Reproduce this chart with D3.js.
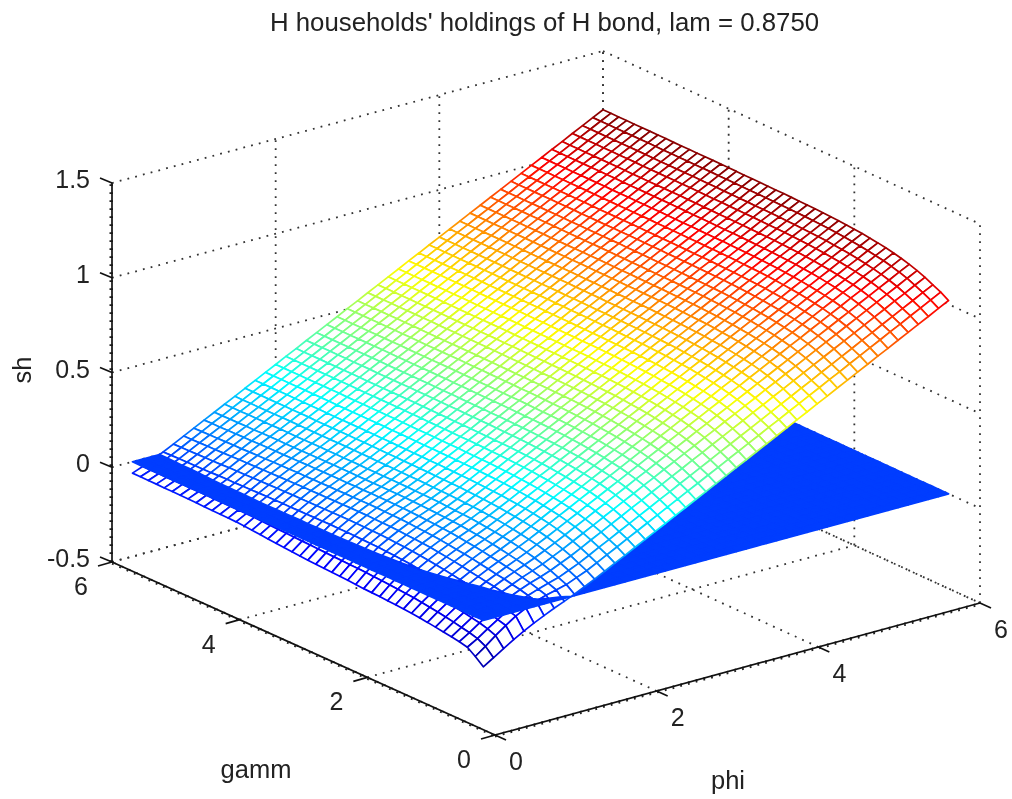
<!DOCTYPE html>
<html><head><meta charset="utf-8">
<style>html,body{margin:0;padding:0;background:#fff}svg{display:block;filter:blur(0.4px)}text{font-family:"Liberation Sans",Arial,sans-serif;fill:#222}</style>
<script src="https://d3js.org/d3.v7.min.js"></script></head><body><div id="c"></div>
<script>
const titleText = "H households' holdings of H bond, lam = 0.8750";
const phiTicks = [0,2,4,6];
const gammTicks = [0,2,4,6];
const zTicks = [-0.5,0,0.5,1,1.5];
const zTickLabels = ["-0.5","0","0.5","1","1.5"];
const planeValue = 0;
const phiValues = [0.25,0.375,0.5,0.625,0.75,0.875,1,1.125,1.25,1.375,1.5,1.625,1.75,1.875,2,2.125,2.25,2.375,2.5,2.625,2.75,2.875,3,3.125,3.25,3.375,3.5,3.625,3.75,3.875,4,4.125,4.25,4.375,4.5,4.625,4.75,4.875,5,5.125,5.25,5.375,5.5,5.625,5.75,5.875,6];
const gammValues = [0.5,0.625,0.75,0.875,1,1.125,1.25,1.375,1.5,1.625,1.75,1.875,2,2.125,2.25,2.375,2.5,2.625,2.75,2.875,3,3.125,3.25,3.375,3.5,3.625,3.75,3.875,4,4.125,4.25,4.375,4.5,4.625,4.75,4.875,5,5.125,5.25,5.375,5.5,5.625,5.75,5.875,6];
// sh in thousandths: one row per gamm value, one column per phi value
const shMilli = [
[-245,-212,-178,-145,-115,-87,-62,-38,-16,7,32,58,85,113,140,168,195,223,250,278,305,333,360,388,415,443,470,498,525,553,580,608,635,663,690,718,745,773,800,828,855,883,910,938,965,993,1020],
[-210,-171,-129,-90,-55,-27,-5,12,25,39,61,83,110,138,165,193,220,248,275,303,330,358,385,413,440,468,495,523,550,578,605,633,660,688,715,743,770,798,825,853,880,908,935,963,990,1018,1045],
[-180,-149,-112,-78,-44,-16,6,25,41,57,80,103,130,158,185,213,240,268,295,323,350,378,405,433,460,488,515,543,570,598,625,653,680,708,735,763,790,818,845,873,900,928,955,983,1010,1038,1065],
[-170,-137,-100,-66,-34,-6,17,38,56,75,99,123,150,178,205,233,260,288,315,343,370,398,425,453,480,508,535,563,590,618,645,673,700,728,755,783,810,838,865,893,920,948,975,1003,1030,1058,1085],
[-163,-128,-92,-57,-26,2,26,49,69,90,115,140,167,195,222,250,277,305,332,360,387,415,442,470,497,525,552,580,607,635,662,690,717,745,772,800,827,855,882,910,937,965,992,1020,1047,1075,1102],
[-157,-119,-83,-47,-17,11,36,59,81,103,128,154,181,209,236,264,291,319,346,374,401,429,456,484,511,539,566,594,621,649,676,704,731,759,786,814,841,869,896,924,951,979,1006,1034,1061,1089,1116],
[-150,-111,-75,-40,-11,17,42,67,90,114,140,166,193,221,248,276,303,331,358,386,413,441,468,496,523,551,578,606,633,661,688,716,743,771,798,826,853,881,908,936,963,991,1018,1046,1073,1101,1128],
[-144,-104,-68,-32,-3,25,51,76,99,124,149,176,203,231,258,286,313,341,368,396,423,451,478,506,533,561,588,616,643,671,698,726,753,781,808,836,863,891,918,946,973,1001,1028,1056,1083,1111,1138],
[-139,-98,-61,-25,4,32,58,83,107,132,157,184,211,239,266,294,321,349,376,404,431,459,486,514,541,569,596,624,651,679,706,734,761,789,816,844,871,899,926,954,981,1009,1036,1064,1091,1119,1146],
[-134,-92,-55,-17,12,40,66,91,114,139,164,191,218,246,273,301,328,356,383,411,438,466,493,521,548,576,603,631,658,686,713,741,768,796,823,851,878,906,933,961,988,1016,1043,1071,1098,1126,1153],
[-130,-86,-48,-10,19,47,73,98,121,145,171,197,224,252,279,307,334,362,389,417,444,472,499,527,554,582,609,637,664,692,719,747,774,802,829,857,884,912,939,967,994,1022,1049,1077,1104,1132,1159],
[-127,-82,-43,-4,25,53,78,103,126,150,176,202,229,257,284,312,339,367,394,422,449,477,504,532,559,587,614,642,669,697,724,752,779,807,834,862,889,917,944,972,999,1027,1054,1082,1109,1137,1164],
[-125,-79,-38,1,31,59,84,109,131,155,180,206,233,261,288,316,343,371,398,426,453,481,508,536,563,591,618,646,673,701,728,756,783,811,838,866,893,921,948,976,1003,1031,1058,1086,1113,1141,1168],
[-122,-75,-34,6,36,64,89,113,136,159,184,210,237,265,292,320,347,375,402,430,457,485,512,540,567,595,622,650,677,705,732,760,787,815,842,870,897,925,952,980,1007,1035,1062,1090,1117,1145,1172],
[-120,-72,-31,10,40,68,93,117,139,162,187,213,240,268,295,323,350,378,405,433,460,488,515,543,570,598,625,653,680,708,735,763,790,818,845,873,900,928,955,983,1010,1038,1065,1093,1120,1148,1175],
[-118,-70,-28,13,43,71,96,120,141,164,189,215,242,270,297,325,352,380,407,435,462,490,517,545,572,600,627,655,682,710,737,765,792,820,847,875,902,930,957,985,1012,1040,1067,1095,1122,1150,1177],
[-115,-67,-25,16,46,74,99,122,144,166,191,217,244,272,299,327,354,382,409,437,464,492,519,547,574,602,629,657,684,712,739,767,794,822,849,877,904,932,959,987,1014,1042,1069,1097,1124,1152,1179],
[-112,-64,-22,19,49,77,102,125,146,169,193,219,246,274,301,329,356,384,411,439,466,494,521,549,576,604,631,659,686,714,741,769,796,824,851,879,906,934,961,989,1016,1044,1071,1099,1126,1154,1181],
[-110,-63,-21,20,51,79,104,127,148,170,194,220,247,275,302,330,357,385,412,440,467,495,522,550,577,605,632,660,687,715,742,770,797,825,852,880,907,935,962,990,1017,1045,1072,1100,1127,1155,1182],
[-108,-61,-20,21,52,80,105,128,149,171,195,221,248,276,303,331,358,386,413,441,468,496,523,551,578,606,633,661,688,716,743,771,798,826,853,881,908,936,963,991,1018,1046,1073,1101,1128,1156,1183],
[-106,-60,-18,22,53,81,106,129,150,172,196,222,249,277,304,332,359,387,414,442,469,497,524,552,579,607,634,662,689,717,744,772,799,827,854,882,909,937,964,992,1019,1047,1074,1102,1129,1157,1184],
[-103,-58,-17,23,54,82,107,130,151,173,197,223,250,278,305,333,360,388,415,443,470,498,525,553,580,608,635,663,690,718,745,773,800,828,855,883,910,938,965,993,1020,1048,1075,1103,1130,1158,1185],
[-101,-57,-16,23,54,82,107,130,151,173,197,223,250,278,305,333,360,388,415,443,470,498,525,553,580,608,635,663,690,718,745,773,800,828,855,883,910,938,965,993,1020,1048,1075,1103,1130,1158,1185],
[-98,-55,-15,24,54,82,107,130,151,174,198,224,251,279,306,334,361,389,416,444,471,499,526,554,581,609,636,664,691,719,746,774,801,829,856,884,911,939,966,994,1021,1049,1076,1104,1131,1159,1186],
[-95,-53,-15,23,53,81,106,129,151,173,198,224,251,279,306,334,361,389,416,444,471,499,526,554,581,609,636,664,691,719,746,774,801,829,856,884,911,939,966,994,1021,1049,1076,1104,1131,1159,1186],
[-91,-52,-13,23,53,81,106,130,151,174,199,225,252,280,307,335,362,390,417,445,472,500,527,555,582,610,637,665,692,720,747,775,802,830,857,885,912,940,967,995,1022,1050,1077,1105,1132,1160,1187],
[-88,-50,-14,22,52,80,105,129,151,174,199,225,252,280,307,335,362,390,417,445,472,500,527,555,582,610,637,665,692,720,747,775,802,830,857,885,912,940,967,995,1022,1050,1077,1105,1132,1160,1187],
[-84,-48,-13,22,52,80,105,129,152,175,200,226,253,281,308,336,363,391,418,446,473,501,528,556,583,611,638,666,693,721,748,776,803,831,858,886,913,941,968,996,1023,1051,1078,1106,1133,1161,1188],
[-80,-47,-12,21,51,79,104,129,151,175,200,226,253,281,308,336,363,391,418,446,473,501,528,556,583,611,638,666,693,721,748,776,803,831,858,886,913,941,968,996,1023,1051,1078,1106,1133,1161,1188],
[-76,-44,-11,21,51,79,104,129,152,175,201,227,254,282,309,337,364,392,419,447,474,502,529,557,584,612,639,667,694,722,749,777,804,832,859,887,914,942,969,997,1024,1052,1079,1107,1134,1162,1189],
[-73,-42,-10,21,50,78,103,128,151,175,201,227,254,282,309,337,364,392,419,447,474,502,529,557,584,612,639,667,694,722,749,777,804,832,859,887,914,942,969,997,1024,1052,1079,1107,1134,1162,1189],
[-70,-41,-10,20,49,77,103,128,151,175,201,227,254,282,309,337,364,392,419,447,474,502,529,557,584,612,639,667,694,722,749,777,804,832,859,887,914,942,969,997,1024,1052,1079,1107,1134,1162,1189],
[-69,-41,-11,19,48,76,102,127,150,175,200,227,254,282,309,337,364,392,419,447,474,502,529,557,584,612,639,667,694,722,749,777,804,832,859,887,914,942,969,997,1024,1052,1079,1107,1134,1162,1189],
[-68,-41,-11,18,47,75,101,126,150,175,200,227,254,282,309,337,364,392,419,447,474,502,529,557,584,612,639,667,694,722,749,777,804,832,859,887,914,942,969,997,1024,1052,1079,1107,1134,1162,1189],
[-67,-40,-12,17,46,74,100,125,149,174,200,227,254,282,309,337,364,392,419,447,474,502,529,557,584,612,639,667,694,722,749,777,804,832,859,887,914,942,969,997,1024,1052,1079,1107,1134,1162,1189],
[-66,-41,-11,16,45,73,99,125,149,174,200,227,254,282,309,337,364,392,419,447,474,502,529,557,584,612,639,667,694,722,749,777,804,832,859,887,914,942,969,997,1024,1052,1079,1107,1134,1162,1189],
[-64,-39,-12,16,44,72,98,124,149,175,201,228,255,283,310,338,365,393,420,448,475,503,530,558,585,613,640,668,695,723,750,778,805,833,860,888,915,943,970,998,1025,1053,1080,1108,1135,1163,1190],
[-63,-40,-12,15,43,71,97,124,149,175,201,228,255,283,310,338,365,393,420,448,475,503,530,558,585,613,640,668,695,723,750,778,805,833,860,888,915,943,970,998,1025,1053,1080,1108,1135,1163,1190],
[-63,-40,-13,13,41,69,95,122,148,174,201,228,255,283,310,338,365,393,420,448,475,503,530,558,585,613,640,668,695,723,750,778,805,833,860,888,915,943,970,998,1025,1053,1080,1108,1135,1163,1190],
[-62,-39,-14,12,40,68,95,122,147,174,201,228,255,283,310,338,365,393,420,448,475,503,530,558,585,613,640,668,695,723,750,778,805,833,860,888,915,943,970,998,1025,1053,1080,1108,1135,1163,1190],
[-62,-40,-15,11,39,67,94,121,147,174,200,228,255,283,310,338,365,393,420,448,475,503,530,558,585,613,640,668,695,723,750,778,805,833,860,888,915,943,970,998,1025,1053,1080,1108,1135,1163,1190],
[-61,-40,-14,11,38,66,93,120,146,174,200,228,255,283,310,338,365,393,420,448,475,503,530,558,585,613,640,668,695,723,750,778,805,833,860,888,915,943,970,998,1025,1053,1080,1108,1135,1163,1190],
[-61,-40,-15,10,37,65,92,119,146,173,200,228,255,283,310,338,365,393,420,448,475,503,530,558,585,613,640,668,695,723,750,778,805,833,860,888,915,943,970,998,1025,1053,1080,1108,1135,1163,1190],
[-60,-40,-15,9,36,64,91,119,145,173,200,228,255,283,310,338,365,393,420,448,475,503,530,558,585,613,640,668,695,723,750,778,805,833,860,888,915,943,970,998,1025,1053,1080,1108,1135,1163,1190],
[-60,-40,-16,8,35,63,90,118,145,173,200,228,255,283,310,338,365,393,420,448,475,503,530,558,585,613,640,668,695,723,750,778,805,833,860,888,915,943,970,998,1025,1053,1080,1108,1135,1163,1190]
];
const jetStops = ["#00008f","#0000ff","#00ffff","#ffff00","#ff0000","#800000"];
const jetAt = [0,0.125,0.375,0.625,0.875,1];

const W=1012,H=799;
const svg=d3.select("#c").append("svg").attr("width",W).attr("height",H);
const phiX=d3.scaleLinear([0,6],[0,485]), phiY=d3.scaleLinear([0,6],[0,-132]);
const gamX=d3.scaleLinear([0,6],[0,-383]), gamY=d3.scaleLinear([0,6],[0,-173]);
const zY=d3.scaleLinear([-0.5,1.5],[0,-379]);
const x0=495,y0=735,persp=6;
const proj=(p,g,z)=>[x0+phiX(p)+gamX(g)+persp*(p/6)*(g/6), y0+phiY(p)+gamY(g)+zY(z)];
const jetDom=d3.scaleLinear([0,1],[-0.27,1.19]);
const jet=d3.scaleLinear().domain(jetAt.map(t=>jetDom(t))).range(jetStops).clamp(true);
const line=d3.line();
const dots={stroke:"#333",w:1.8,dash:"1.8 6.2"};

// grid
const grid=[];
zTicks.forEach(z=>{grid.push([[0,6,z],[6,6,z]]);grid.push([[6,6,z],[6,0,z]]);});
phiTicks.forEach(p=>{grid.push([[p,6,-0.5],[p,6,1.5]]);grid.push([[p,0,-0.5],[p,6,-0.5]]);});
gammTicks.forEach(g=>{grid.push([[6,g,-0.5],[6,g,1.5]]);grid.push([[0,g,-0.5],[6,g,-0.5]]);});
svg.append("g").selectAll("path").data(grid).join("path")
  .attr("d",d=>line(d.map(a=>proj(...a))))
  .attr("fill","none").attr("stroke",dots.stroke).attr("stroke-width",dots.w).attr("stroke-dasharray",dots.dash);

// keep the part of a cell on one side of the plane
function clipZ(poly,sign){
  const out=[];
  poly.forEach((a,i)=>{
    const b=poly[(i+1)%poly.length];
    const da=sign*(a[2]-planeValue), db=sign*(b[2]-planeValue);
    if(da>=0)out.push(a);
    if((da>=0)!==(db>=0)){
      const t=da/(da-db);
      out.push([a[0]+t*(b[0]-a[0]),a[1]+t*(b[1]-a[1]),planeValue]);
    }
  });
  return out;
}
// cells, back to front: under the plane, the plane, over the plane
const cells=[];
for(let j=gammValues.length-2;j>=0;j--)for(let i=phiValues.length-2;i>=0;i--){
  const corners=[[i,j],[i+1,j],[i+1,j+1],[i,j+1]];
  const s=corners.map(([a,b])=>[phiValues[a],gammValues[b],shMilli[b][a]/1000]);
  const pl=corners.map(([a,b])=>[phiValues[a],gammValues[b],planeValue]);
  const m=d3.mean(s,d=>d[2]);
  const under=clipZ(s,-1), over=clipZ(s,1);
  if(under.length>2)cells.push({pts:under,z:m,mesh:true});
  cells.push({pts:pl,z:planeValue,mesh:false});
  if(over.length>2)cells.push({pts:over,z:m,mesh:true});
}
svg.append("g").selectAll("path").data(cells).join("path")
  .attr("d",d=>line(d.pts.map(a=>proj(...a)))+"Z")
  .attr("fill",d=>d.mesh?"#fff":jet(d.z))
  .attr("stroke",d=>jet(d.z))
  .attr("stroke-width",1.7).attr("stroke-linejoin","round");

// dots running along the three solid axes
const axisDots=[
  {a:[0,6,-0.5],b:[0,6,1.5],dx:-1.6,dy:0},
  {a:[0,6,-0.5],b:[0,0,-0.5],dx:0,dy:1.6},
  {a:[0,0,-0.5],b:[6,0,-0.5],dx:0,dy:1.6}];
svg.append("g").selectAll("path").data(axisDots).join("path")
  .attr("d",d=>line([proj(...d.a),proj(...d.b)]))
  .attr("transform",d=>`translate(${d.dx},${d.dy})`)
  .attr("fill","none").attr("stroke","#222").attr("stroke-width",dots.w).attr("stroke-dasharray",dots.dash);

// axes
const ax=svg.append("g").attr("stroke","#111").attr("stroke-width",1.7).attr("fill","none");
const seg=(a,b)=>ax.append("path").attr("d",line([proj(...a),proj(...b)]));
seg([0,6,-0.5],[0,6,1.5]);seg([0,6,-0.5],[0,0,-0.5]);seg([0,0,-0.5],[6,0,-0.5]);
const tl=12;
zTicks.forEach(z=>{const a=proj(0,6,z);ax.append("path").attr("d",line([a,[a[0]-tl,a[1]-5]]));});
gammTicks.forEach(g=>{const a=proj(0,g,-0.5);ax.append("path").attr("d",line([a,[a[0]-14,a[1]+4]]));});
phiTicks.forEach(p=>{const a=proj(p,0,-0.5);ax.append("path").attr("d",line([a,[a[0]+11,a[1]+5]]));});

const T=(x,y,s,size,anchor)=>svg.append("text").attr("x",x).attr("y",y).attr("font-size",size).attr("text-anchor",anchor||"middle").text(s);
T(544.5,31,titleText,25.8);
zTicks.forEach((z,i)=>T(90,proj(0,6,z)[1]+5,zTickLabels[i],25,"end"));
gammTicks.forEach(g=>{const a=proj(0,g,-0.5);T(a[0]-31,a[1]+33,String(g),25);});
phiTicks.forEach(p=>{const a=proj(p,0,-0.5);T(a[0]+21,a[1]+35,String(p),25);});
T(256,778,"gamm",25.5);
T(728,789,"phi",25.5);
svg.append("text").attr("transform","translate(31,370) rotate(-90)").attr("font-size",25.5).attr("text-anchor","middle").text("sh");
</script></body></html>
